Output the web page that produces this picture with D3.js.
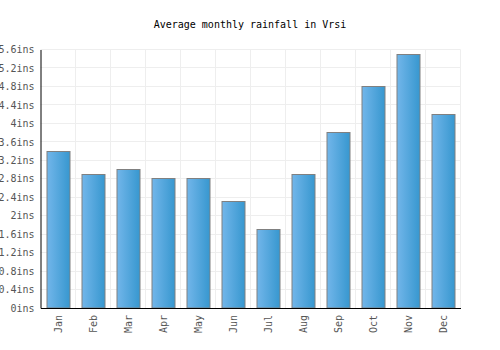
<!DOCTYPE html>
<html>
<head>
<meta charset="utf-8">
<script src="https://cdn.jsdelivr.net/npm/d3@7"></script>
<style>
  body { margin: 0; background: #ffffff; }
  svg text { font-family: "DejaVu Sans Mono", monospace; }
</style>
</head>
<body>
<svg id="chart" width="500" height="350"></svg>
<script>
const months = ['Jan', 'Feb', 'Mar', 'Apr', 'May', 'Jun', 'Jul', 'Aug', 'Sep', 'Oct', 'Nov', 'Dec'];
const rainfall = [3.4, 2.9, 3.0, 2.8, 2.8, 2.3, 1.7, 2.9, 3.8, 4.8, 5.5, 4.2];
const yTicks = [0, 0.4, 0.8, 1.2, 1.6, 2, 2.4, 2.8, 3.2, 3.6, 4, 4.4, 4.8, 5.2, 5.6];
const title = 'Average monthly rainfall in Vrsi';

const margin = { top: 49.5, left: 40.5, right: 39.5, bottom: 42 };
const width = 500 - margin.left - margin.right;
const height = 350 - margin.top - margin.bottom;

const svg = d3.select('#chart');

const defs = svg.append('defs');
const grad = defs.append('linearGradient')
  .attr('id', 'barGrad')
  .attr('x1', '0%').attr('x2', '100%')
  .attr('y1', '0%').attr('y2', '0%');
grad.append('stop').attr('offset', '0%').attr('stop-color', '#72b6ea');
grad.append('stop').attr('offset', '100%').attr('stop-color', '#3797cf');

svg.append('text')
  .attr('x', 250)
  .attr('y', 28)
  .attr('text-anchor', 'middle')
  .style('font-size', '10px')
  .style('fill', '#000')
  .text(title);

const g = svg.append('g')
  .attr('transform', `translate(${margin.left},${margin.top})`);

const x = d3.scaleBand()
  .domain(months)
  .range([0, width])
  .paddingInner(0.34)
  .paddingOuter(0.17);

const y = d3.scaleLinear()
  .domain([0, 5.6])
  .range([height, 0]);

// grid
const step = width / months.length;
g.append('g')
  .selectAll('line')
  .data(d3.range(1, months.length + 1))
  .join('line')
  .attr('x1', d => d * step)
  .attr('x2', d => d * step)
  .attr('y1', 0)
  .attr('y2', height)
  .attr('stroke', '#eeeeee')
  .attr('stroke-width', 1);
g.append('g')
  .selectAll('line')
  .data(yTicks.slice(1))
  .join('line')
  .attr('x1', 0)
  .attr('x2', width)
  .attr('y1', d => Math.round(y(d)))
  .attr('y2', d => Math.round(y(d)))
  .attr('stroke', '#eeeeee')
  .attr('stroke-width', 1);

// bars
g.append('g')
  .selectAll('rect')
  .data(rainfall)
  .join('rect')
  .attr('x', (d, i) => Math.round(x(months[i])) + 0.5)
  .attr('y', d => Math.round(y(d)))
  .attr('width', Math.round(x.bandwidth()))
  .attr('height', d => height - Math.round(y(d)))
  .attr('fill', 'url(#barGrad)')
  .attr('stroke', '#808080')
  .attr('stroke-width', 1);

// y axis
const yAxis = g.append('g')
  .call(d3.axisLeft(y).tickValues(yTicks).tickSize(0).tickPadding(6)
    .tickFormat(d => d3.format('~g')(d) + 'ins'));
yAxis.select('.domain').attr('stroke', '#000').attr('stroke-width', 1);
yAxis.selectAll('text')
  .style('font-size', '10px')
  .style('font-family', '"DejaVu Sans Mono", monospace')
  .style('fill', '#555');

// x axis
const xAxis = g.append('g')
  .attr('transform', `translate(0,${height})`)
  .call(d3.axisBottom(x).tickSize(0).tickSizeOuter(0));
xAxis.select('.domain').attr('stroke', '#000').attr('stroke-width', 1);
xAxis.selectAll('text')
  .attr('transform', 'rotate(-90)')
  .attr('text-anchor', 'end')
  .attr('x', -7)
  .attr('y', 0)
  .attr('dy', '0.35em')
  .style('font-size', '10px')
  .style('font-family', '"DejaVu Sans Mono", monospace')
  .style('fill', '#555');
</script>
</body>
</html>
